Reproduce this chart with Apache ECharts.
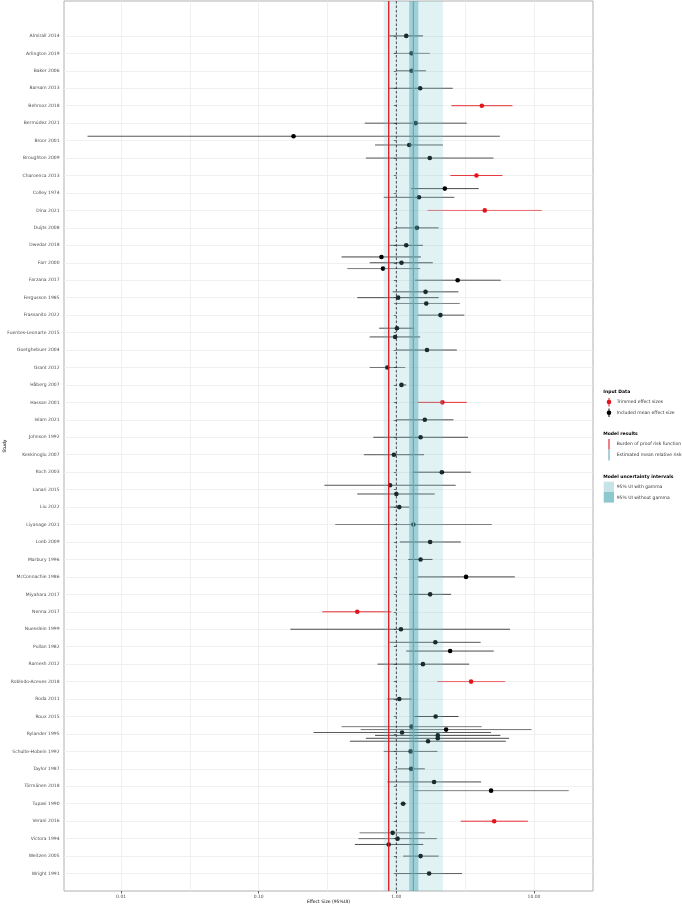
<!DOCTYPE html>
<html><head><meta charset="utf-8">
<script src="https://cdn.jsdelivr.net/npm/echarts@6/dist/echarts.min.js"></script>
<style>html,body{margin:0;padding:0;background:#fff}#c{width:682px;height:905px}</style>
</head><body><div id="c"></div>
<script>
// ---------------- data ----------------
const studies = ['Almirall 2014','Arlington 2019','Baker 2006','Barsam 2013','Behrooz 2018','Bermúdez 2021','Broor 2001','Broughton 2009','Charoenca 2013','Colley 1974','Dina 2021','Duijts 2008','Dwedar 2018','Farr 2000','Farzana 2017','Fergusson 1985','Frassanito 2022','Fuentes-Leonarte 2015','Goetghebuer 2004','Grant 2012','Håberg 2007','Hassan 2001','Islam 2021','Johnson 1992','Keskinoglu 2007','Koch 2003','Lanari 2015','Liu 2022','Liyanage 2021','Loeb 2009','Marbury 1996','McConnachie 1986','Miyahara 2017','Nenna 2017','Nuesslein 1999','Pullan 1982','Ramesh 2012','Robledo-Aceves 2018','Roda 2011','Roux 2015','Rylander 1995','Schulte-Hobein 1992','Taylor 1987','Törmänen 2018','Tupasi 1990','Verani 2016','Victora 1994','Weitzen 2005','Wright 1991'];

// one entry per effect size (listed top to bottom inside each study)
const effStudy   = [0,1,2,3,4,5,6,6,7,8,9,9,10,11,12,13,13,13,14,15,15,15,16,17,17,18,19,20,21,22,23,24,25,26,26,27,28,29,30,31,32,33,34,35,35,36,37,38,39,40,40,40,40,40,40,41,42,43,43,44,45,46,46,46,47,48];
const effMean    = [1.18,1.29,1.29,1.49,4.18,1.38,0.179,1.24,1.75,3.82,2.25,1.46,4.39,1.41,1.18,0.78,1.09,0.80,2.79,1.63,1.03,1.65,2.09,1.01,0.98,1.67,0.86,1.09,2.16,1.61,1.50,0.96,2.14,0.90,1.00,1.05,1.33,1.76,1.50,3.21,1.76,0.52,1.08,1.92,2.46,1.56,3.49,1.05,1.93,1.29,2.30,1.10,2.00,2.00,1.70,1.27,1.28,1.88,4.88,1.12,5.14,0.94,1.02,0.88,1.50,1.73];
const effLower   = [0.89,0.96,1.00,0.88,2.51,0.59,0.0057,0.70,0.60,2.47,1.28,0.81,1.69,1.00,0.89,0.40,0.64,0.44,1.37,0.94,0.52,0.96,1.43,0.75,0.64,1.00,0.64,1.05,1.43,1.00,0.68,0.58,1.31,0.30,0.52,0.89,0.36,1.06,1.22,1.43,1.24,0.29,0.17,0.89,1.18,0.73,1.99,0.86,1.35,0.40,0.55,0.25,0.70,0.60,0.46,0.81,1.02,0.86,1.35,1.07,2.94,0.54,0.53,0.50,1.12,1.00];
const effUpper   = [1.56,1.75,1.64,2.57,6.98,3.25,5.65,2.18,5.08,5.90,3.97,2.64,11.4,2.03,1.56,1.51,1.84,1.49,5.74,2.83,2.03,2.89,3.12,1.35,1.49,2.75,1.16,1.18,3.25,2.60,3.32,1.59,3.48,2.70,1.90,1.24,4.94,2.94,1.83,7.26,2.50,0.92,6.70,4.10,5.10,3.38,6.17,1.29,2.83,4.17,9.60,4.88,5.70,6.60,6.25,1.99,1.61,4.13,17.9,1.18,9.03,1.61,1.97,1.57,2.03,3.00];
const effTrimmed = [0,0,0,0,1,0,0,0,0,1,0,0,1,0,0,0,0,0,0,0,0,0,0,0,0,0,0,0,1,0,0,0,0,0,0,0,0,0,0,0,0,1,0,0,0,0,1,0,0,0,0,0,0,0,0,0,0,0,0,0,1,0,0,0,0,0];
const effWeight  = [1,0.4,0.8,0.8,0.9,0.8,0.8,0.8,0.8,0.8,0.9,0.8,0.45,0.8,0.8,1,0.9,0.5,0.8,0.9,0.9,0.45,0.8,0.9,0.9,0.9,0.5,1,0.9,0.9,0.9,0.8,0.9,0.8,0.9,0.9,0.4,0.9,0.9,0.9,0.9,0.9,0.9,0.8,0.9,0.9,0.5,0.9,0.9,0.5,0.55,0.8,0.9,0.9,0.9,0.6,0.8,0.9,0.45,1,0.9,0.5,0.6,0.9,0.8,0.7];

const burdenOfProof = 0.88;
const meanRelativeRisk = 1.33;
const uiWithGamma = [0.81, 2.18];
const uiWithoutGamma = [1.24, 1.445];

const xTickValues = [0.01, 0.1, 1, 10];
const xTickLabels = ['0.01', '0.10', '1.00', '10.00'];

// ---------------- build ----------------
const L = Math.log10;
const X_MIN = -2.415, X_MAX = 1.429;   // axis range in log10 units
const Y_MIN = -2, Y_MAX = 49;          // axis range in study rows

const counts = {};
effStudy.forEach(s => { counts[s] = (counts[s] || 0) + 1; });
const seen = {};
const rows = effStudy.map((s, i) => {
  const n = counts[s];
  const k = (seen[s] = seen[s] === undefined ? 0 : seen[s] + 1);
  const y = s + (k - (n - 1) / 2) / n;
  return { x: L(effMean[i]), lo: L(effLower[i]), hi: L(effUpper[i]), y, t: effTrimmed[i], w: effWeight[i] };
});

const xMajor = xTickValues.map(L);
const xGrid = [];
xMajor.forEach((v, i) => { xGrid.push(v); if (i < xMajor.length - 1) xGrid.push((v + xMajor[i + 1]) / 2); });
const yTicks = studies.map((_, i) => i);

const RED = '#e3151c';
const TEAL = '#64abb4';
const FONT = 'DejaVu Sans';
const FS = 4.5;

function vline(value, z, lineStyle) {
  return {
    type: 'custom', z, silent: true, clip: true,
    data: [[L(value)]], encode: { x: 0 },
    renderItem(params, api) {
      const cs = params.coordSys;
      const p = api.coord([api.value(0), 0]);
      return { type: 'line', shape: { x1: p[0], y1: cs.y, x2: p[0], y2: cs.y + cs.height }, style: lineStyle };
    }
  };
}
function band(range, z, fill) {
  return {
    type: 'custom', z, silent: true, clip: true,
    data: [[L(range[0]), L(range[1])]], encode: { x: [0, 1] },
    renderItem(params, api) {
      const cs = params.coordSys;
      const a = api.coord([api.value(0), 0]);
      const b = api.coord([api.value(1), 0]);
      return { type: 'rect', shape: { x: a[0], y: cs.y, width: b[0] - a[0], height: cs.height }, style: { fill } };
    }
  };
}

const legendText = (x, y, text, bold) => ({
  type: 'text', x, y,
  style: { text, fill: bold ? '#000' : '#333', font: (bold ? 'bold ' : '') + FS + 'px "' + FONT + '"', verticalAlign: 'middle', align: 'left' }
});

const option = {
  animation: false,
  backgroundColor: '#fff',
  grid: { left: 64, top: 1, width: 529, height: 890, containLabel: false, outerBoundsMode: 'none',
    show: true, borderColor: '#b0b0b0', borderWidth: 1, backgroundColor: 'transparent' },
  xAxis: [{
    type: 'value', min: X_MIN, max: X_MAX, position: 'bottom',
    name: 'Effect Size (95%UI)', nameLocation: 'middle', nameGap: 8.5, nameMoveOverlap: false,
    nameTextStyle: { fontFamily: FONT, fontSize: FS, color: '#000' },
    axisLine: { show: false },
    axisTick: { show: false, customValues: xGrid },
    splitLine: { show: true, lineStyle: { color: '#ececec', width: 0.8 } },
    axisLabel: { customValues: xMajor, margin: 3, fontFamily: FONT, fontSize: FS, color: '#4d4d4d',
      formatter: v => xTickLabels[xMajor.findIndex(m => Math.abs(m - v) < 1e-9)] }
  }, {
    type: 'value', min: X_MIN, max: X_MAX, position: 'bottom',
    axisLine: { show: false },
    axisTick: { show: true, customValues: xMajor, length: 2.5, lineStyle: { color: '#333', width: 0.8 } },
    splitLine: { show: false }, axisLabel: { show: false }
  }],
  yAxis: {
    type: 'value', min: Y_MIN, max: Y_MAX, inverse: true,
    name: 'Study', nameLocation: 'middle', nameGap: 57, nameRotate: 90, nameMoveOverlap: false,
    nameTextStyle: { fontFamily: FONT, fontSize: FS, color: '#000' },
    axisLine: { show: false },
    axisTick: { show: true, customValues: yTicks, length: 2.5, lineStyle: { color: '#333', width: 0.8 } },
    splitLine: { show: true, lineStyle: { color: '#ececec', width: 0.8 } },
    axisLabel: { customValues: yTicks, margin: 4.5, fontFamily: FONT, fontSize: FS, color: '#4d4d4d',
      formatter: v => studies[Math.round(v)] }
  },
  series: [
    {
      type: 'custom', z: 2, silent: true, clip: true,
      data: rows.map(r => [r.lo, r.hi, r.y, r.t, r.w]),
      encode: { x: [0, 1], y: 2 },
      renderItem(params, api) {
        const a = api.coord([api.value(0), api.value(2)]);
        const b = api.coord([api.value(1), api.value(2)]);
        const t = api.value(3), w = api.value(4);
        const op = 0.3 + 0.45 * w;
        return { type: 'line', shape: { x1: a[0], y1: a[1], x2: b[0], y2: b[1] },
          style: { stroke: t ? 'rgba(227,21,28,' + (0.35 + 0.6 * w) + ')' : 'rgba(0,0,0,' + op + ')', lineWidth: 1 } };
      }
    },
    { type: 'scatter', z: 3, silent: true, symbolSize: 4.6, itemStyle: { color: '#000', opacity: 1 },
      data: rows.filter(r => !r.t).map(r => [r.x, r.y]) },
    { type: 'scatter', z: 3, silent: true, symbolSize: 4.6, itemStyle: { color: RED, opacity: 1 },
      data: rows.filter(r => r.t).map(r => [r.x, r.y]) },
    band(uiWithGamma, 4, 'rgba(120,195,205,0.22)'),
    band(uiWithoutGamma, 5, 'rgba(70,160,175,0.42)'),
    vline(meanRelativeRisk, 6, { stroke: TEAL, lineWidth: 1.2 }),
    vline(1, 6, { stroke: '#222', lineWidth: 0.8, lineDash: [2.5, 2] }),
    vline(burdenOfProof, 7, { stroke: RED, lineWidth: 1.3 })
  ],
  graphic: [
    legendText(603.3, 392, 'Input Data', true),
    { type: 'line', shape: { x1: 609, y1: 398, x2: 609, y2: 406.5 }, style: { stroke: RED, lineWidth: 1 } },
    { type: 'circle', shape: { cx: 609, cy: 402, r: 2.3 }, style: { fill: RED } },
    legendText(616.7, 402, 'Trimmed effect sizes'),
    { type: 'line', shape: { x1: 609, y1: 408.5, x2: 609, y2: 417 }, style: { stroke: '#000', lineWidth: 1 } },
    { type: 'circle', shape: { cx: 609, cy: 412.7, r: 2.3 }, style: { fill: '#000' } },
    legendText(616.7, 412.7, 'Included mean effect size'),
    legendText(603.3, 434, 'Model results', true),
    { type: 'line', shape: { x1: 609, y1: 439, x2: 609, y2: 449.5 }, style: { stroke: RED, lineWidth: 1.1 } },
    { type: 'line', shape: { x1: 609, y1: 449.5, x2: 609, y2: 460.5 }, style: { stroke: TEAL, lineWidth: 1.1 } },
    legendText(616.7, 444, 'Burden of proof risk function'),
    legendText(616.7, 455.3, 'Estimated mean relative risk'),
    legendText(603.3, 477, 'Model uncertainty intervals', true),
    { type: 'rect', shape: { x: 603.7, y: 481.7, width: 10.3, height: 10.3 }, style: { fill: '#c6e4e7' } },
    { type: 'rect', shape: { x: 603.7, y: 492, width: 10.3, height: 10.6 }, style: { fill: '#8ec8cf' } },
    legendText(616.7, 487, '95% UI with gamma'),
    legendText(616.7, 497.7, '95% UI without gamma')
  ]
};

const chart = echarts.init(document.getElementById('c'), null, { renderer: 'canvas' });
chart.setOption(option);
</script>
</body></html>
